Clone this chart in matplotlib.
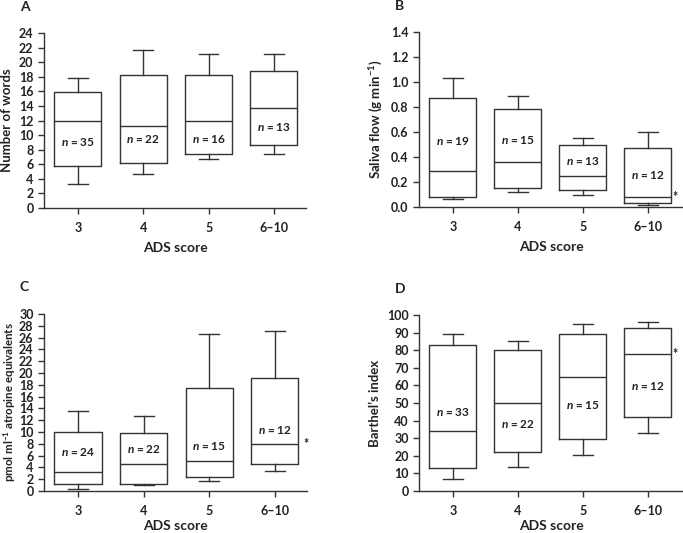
import matplotlib
matplotlib.use("Agg")
import matplotlib.pyplot as plt
import numpy as np

plt.rcParams['font.family'] = ['Lato', 'DejaVu Sans']
plt.rcParams['font.weight'] = 'bold'
plt.rcParams['mathtext.fontset'] = 'custom'
plt.rcParams['mathtext.it'] = 'Lato:italic:bold'
plt.rcParams['mathtext.rm'] = 'Lato:bold'

groups = ['3', '4', '5', '6\u201310']

# whisker low, Q1, median, Q3, whisker high, per ADS group
words_low = [3.3, 4.6, 6.7, 7.45]
words_q1 = [5.75, 6.2, 7.45, 8.6]
words_med = [11.9, 11.2, 11.9, 13.7]
words_q3 = [15.9, 18.2, 18.2, 18.8]
words_high = [17.9, 21.7, 21.1, 21.1]
words_n = [35, 22, 16, 13]
words_ny = [9.1, 9.4, 9.4, 11.1]

saliva_low = [0.065, 0.12, 0.095, 0.02]
saliva_q1 = [0.08, 0.15, 0.14, 0.035]
saliva_med = [0.29, 0.36, 0.25, 0.08]
saliva_q3 = [0.87, 0.78, 0.495, 0.47]
saliva_high = [1.03, 0.89, 0.555, 0.60]
saliva_n = [19, 15, 13, 12]
saliva_ny = [0.53, 0.54, 0.37, 0.26]

atropine_low = [0.4, 0.96, 1.7, 3.4]
atropine_q1 = [1.25, 1.25, 2.4, 4.5]
atropine_med = [3.3, 4.6, 5.0, 7.9]
atropine_q3 = [10.0, 9.85, 17.4, 19.2]
atropine_high = [13.5, 12.7, 26.6, 27.2]
atropine_n = [24, 22, 15, 12]
atropine_ny = [6.6, 7.1, 7.6, 10.4]

barthel_low = [7, 13.5, 20.7, 32.8]
barthel_q1 = [13.3, 22, 29.8, 42]
barthel_med = [34.3, 50, 65, 77.6]
barthel_q3 = [83, 80, 89, 92.8]
barthel_high = [89, 85, 95, 96]
barthel_n = [33, 22, 15, 12]
barthel_ny = [45, 38, 49, 59.6]

edge = '#333333'


def make_stats(low, q1, med, q3, high):
    return [dict(whislo=a, q1=b, med=c, q3=d, whishi=e, fliers=[])
            for a, b, c, d, e in zip(low, q1, med, q3, high)]


def draw_panel(ax, stats, ns, ny, ymax, ystep, fmt, ylabel, letter, xlim_hi,
               star=None, ylabel_size=9.5, ylabel_pad=4, xlabel_pad=6):
    pos = np.arange(1, len(groups) + 1)
    ax.bxp(stats, positions=pos, widths=0.72, showfliers=False,
           boxprops=dict(color=edge, linewidth=1.0),
           medianprops=dict(color=edge, linewidth=1.0),
           whiskerprops=dict(color=edge, linewidth=1.0),
           capprops=dict(color=edge, linewidth=1.0),
           capwidths=0.3)
    for p, n, y in zip(pos, ns, ny):
        ax.text(p, y, f'$n$ = {n}', ha='center', va='center', fontsize=8.5,
                fontweight='bold', color='#222222')
    ax.set_xlim(0.48, xlim_hi)
    ax.set_ylim(0, ymax)
    ticks = np.arange(0, ymax + ystep / 2, ystep)
    ax.set_yticks(ticks)
    ax.set_yticklabels([fmt.format(t) for t in ticks])
    ax.set_xticks(pos)
    ax.set_xticklabels(groups)
    for s in ['top', 'right']:
        ax.spines[s].set_visible(False)
    for s in ['left', 'bottom']:
        ax.spines[s].set_color(edge)
        ax.spines[s].set_linewidth(1.0)
    ax.tick_params(axis='both', colors=edge, labelcolor='#222222', labelsize=9,
                   length=4, width=1.0)
    ax.tick_params(axis='x', pad=6)
    ax.set_xlabel('ADS score', fontsize=10, fontweight='bold', labelpad=xlabel_pad,
                  color='#222222')
    ax.set_ylabel(ylabel, fontsize=ylabel_size, fontweight='bold', color='#222222',
                  labelpad=ylabel_pad)
    ax.text(-0.093, 1.15, letter, transform=ax.transAxes, fontsize=10,
            fontweight='bold', color='#222222', va='center')
    if star is not None:
        ax.text(star[0], star[1], '*', ha='center', va='center', fontsize=9, color='#222222')


fig = plt.figure(figsize=(6.83, 5.33), dpi=100)
axA = fig.add_axes([0.0644, 0.6098, 0.3836, 0.3282])
axB = fig.add_axes([0.6135, 0.6116, 0.3865, 0.3284])
axC = fig.add_axes([0.0644, 0.0788, 0.3851, 0.3321])
axD = fig.add_axes([0.6135, 0.0788, 0.3865, 0.3302])

draw_panel(axA, make_stats(words_low, words_q1, words_med, words_q3, words_high),
           words_n, words_ny, 24, 2, '{:.0f}', 'Number of words', 'A', 4.49)
draw_panel(axB, make_stats(saliva_low, saliva_q1, saliva_med, saliva_q3, saliva_high),
           saliva_n, saliva_ny, 1.4, 0.2, '{:.1f}', 'Saliva flow (g min$^{-1}$)', 'B', 4.54,
           star=(4.42, 0.08))
draw_panel(axC, make_stats(atropine_low, atropine_q1, atropine_med, atropine_q3, atropine_high),
           atropine_n, atropine_ny, 30, 2, '{:.0f}', 'pmol ml$^{-1}$ atropine equivalents', 'C', 4.49,
           star=(4.47, 7.9), ylabel_size=8.3, ylabel_pad=1, xlabel_pad=2)
draw_panel(axD, make_stats(barthel_low, barthel_q1, barthel_med, barthel_q3, barthel_high),
           barthel_n, barthel_ny, 100, 10, '{:.0f}', 'Barthel\u2019s index', 'D', 4.54,
           star=(4.42, 77.6), xlabel_pad=2)

fig.savefig('out.png', dpi=100)
